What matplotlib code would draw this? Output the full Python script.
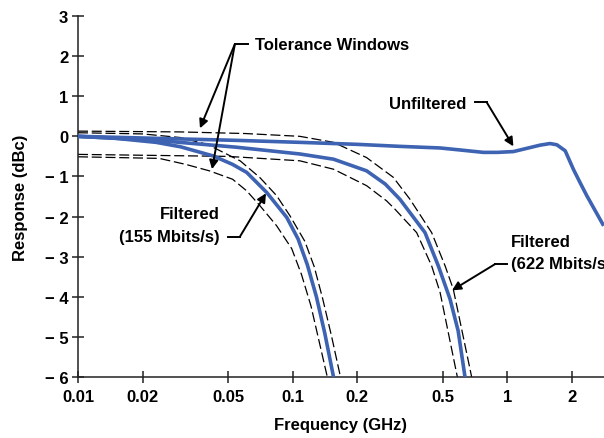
import matplotlib
matplotlib.use("Agg")
import matplotlib.pyplot as plt

# unfiltered response
freq_unf = [0.01, 0.0231, 0.0544, 0.108, 0.2, 0.316, 0.486, 0.602, 0.773, 0.9, 1.067,
            1.276, 1.42, 1.58, 1.70, 1.86, 2.03, 2.18, 2.345, 2.81]
resp_unf = [0.0, -0.05, -0.10, -0.15, -0.20, -0.25, -0.29, -0.34, -0.40, -0.40, -0.38,
            -0.28, -0.22, -0.18, -0.21, -0.36, -0.82, -1.15, -1.48, -2.23]

# filtered 155 Mbits/s and its tolerance window
freq_155 = [0.01, 0.015, 0.0231, 0.03, 0.0427, 0.0525, 0.0611, 0.0757, 0.0938, 0.106,
            0.117, 0.129, 0.141, 0.155]
resp_155 = [0.0, -0.05, -0.15, -0.26, -0.49, -0.70, -0.90, -1.40, -2.02, -2.56,
            -3.2, -4.0, -4.9, -6.0]
freq_155_hi = [0.01, 0.02, 0.03, 0.04, 0.0569, 0.0704, 0.0842, 0.0971, 0.114, 0.126, 0.138,
               0.152, 0.167]
resp_155_hi = [0.09, 0.06, -0.03, -0.20, -0.61, -1.03, -1.48, -1.98, -2.62, -3.25, -4.05,
               -5.0, -6.0]
freq_155_lo = [0.01, 0.0239, 0.0318, 0.0409, 0.0525, 0.0611, 0.0704, 0.0842, 0.099, 0.11,
               0.1217, 0.145]
resp_155_lo = [-0.51, -0.55, -0.70, -0.86, -1.07, -1.36, -1.73, -2.23, -2.80, -3.45,
               -4.23, -6.0]

# filtered 622 Mbits/s and its tolerance window
freq_622 = [0.01, 0.0231, 0.0544, 0.108, 0.155, 0.221, 0.27, 0.316, 0.4135, 0.477,
            0.541, 0.59, 0.635]
resp_622 = [0.0, -0.10, -0.27, -0.44, -0.57, -0.86, -1.19, -1.57, -2.40, -3.23,
            -4.06, -4.85, -6.0]
freq_622_hi = [0.01, 0.03, 0.06, 0.108, 0.155, 0.221, 0.294, 0.352, 0.444, 0.513, 0.56, 0.682]
resp_622_hi = [0.13, 0.11, 0.07, 0.0, -0.15, -0.53, -1.02, -1.57, -2.40, -3.23, -3.81, -6.0]
freq_622_lo = [0.01, 0.05, 0.108, 0.155, 0.221, 0.274, 0.30, 0.378, 0.444, 0.486, 0.585]
resp_622_lo = [-0.45, -0.50, -0.61, -0.82, -1.23, -1.61, -1.82, -2.40, -3.23, -3.89, -6.0]

xticks = [0.01, 0.02, 0.05, 0.1, 0.2, 0.5, 1, 2]
xtick_labels = ["0.01", "0.02", "0.05", "0.1", "0.2", "0.5", "1", "2"]
yticks = [3, 2, 1, 0, -1, -2, -3, -4, -5, -6]
ytick_labels = ["3", "2", "1", "0", "\u2212 1", "\u2212 2", "\u2212 3", "\u2212 4", "\u2212 5", "\u2212 6"]

plt.rcParams["font.family"] = ["Liberation Sans", "DejaVu Sans"]
plt.rcParams["font.weight"] = "bold"

BLUE = "#3d63b2"
FS = 12

fig = plt.figure(figsize=(6.04, 4.39), dpi=100)
ax = fig.add_axes([78 / 604, 61 / 439, 526 / 604, 361 / 439])

dash = (0, (8, 3))
for f, r in [(freq_155_hi, resp_155_hi), (freq_155_lo, resp_155_lo),
             (freq_622_hi, resp_622_hi), (freq_622_lo, resp_622_lo)]:
    ax.plot(f, r, color="black", lw=0.9, linestyle=dash, zorder=2)

for f, r in [(freq_155, resp_155), (freq_622, resp_622), (freq_unf, resp_unf)]:
    ax.plot(f, r, color=BLUE, lw=2.6, solid_joinstyle="round", solid_capstyle="butt", zorder=3)

ax.set_xscale("log")
ax.set_xlim(0.01, 2.82)
ax.set_ylim(-6, 3)
ax.set_xticks(xticks)
ax.set_xticklabels(xtick_labels)
ax.minorticks_off()
ax.set_yticks(yticks)
ax.set_yticklabels(ytick_labels)
ax.tick_params(direction="inout", length=8, width=1.1, labelsize=FS, color="#222222")
ax.tick_params(axis="y", pad=3)
ax.tick_params(axis="x", pad=5)
for s in ["top", "right"]:
    ax.spines[s].set_visible(False)
for s in ["left", "bottom"]:
    ax.spines[s].set_linewidth(1.1)
    ax.spines[s].set_color("#222222")

ax.set_xlabel("Frequency (GHz)", fontsize=FS, fontweight="bold", labelpad=9)
ax.set_ylabel("Response (dBc)", fontsize=FS, fontweight="bold", labelpad=12)

arrow = dict(arrowstyle="-|>", color="black", lw=1.4, mutation_scale=13, shrinkA=0, shrinkB=0)
stub = dict(color="black", lw=1.4, clip_on=False, zorder=4)

# Tolerance Windows
ax.text(0.0667, 2.30, "Tolerance Windows", fontsize=FS, fontweight="bold", ha="left", va="center")
ax.plot([0.0538, 0.0619], [2.30, 2.30], **stub)
ax.annotate("", xy=(0.0370, 0.20), xytext=(0.0538, 2.30), arrowprops=arrow)
ax.annotate("", xy=(0.0421, -0.82), xytext=(0.0538, 2.30), arrowprops=arrow)

# Unfiltered
ax.text(0.642, 0.83, "Unfiltered", fontsize=FS, fontweight="bold", ha="right", va="center")
ax.plot([0.707, 0.802], [0.845, 0.845], **stub)
ax.annotate("", xy=(1.067, -0.25), xytext=(0.802, 0.845), arrowprops=arrow)

# Filtered 155
ax.text(0.0458, -1.92, "Filtered", fontsize=FS, fontweight="bold", ha="right", va="center")
ax.text(0.0458, -2.49, "(155 Mbits/s)", fontsize=FS, fontweight="bold", ha="right", va="center")
ax.plot([0.0499, 0.0568], [-2.50, -2.50], **stub)
ax.annotate("", xy=(0.0751, -1.42), xytext=(0.0568, -2.50), arrowprops=arrow)

# Filtered 622
ax.text(1.04, -2.63, "Filtered", fontsize=FS, fontweight="bold", ha="left", va="center")
ax.text(1.04, -3.16, "(622 Mbits/s)", fontsize=FS, fontweight="bold", ha="left", va="center")
ax.plot([0.88, 0.997], [-3.18, -3.18], **stub)
ax.annotate("", xy=(0.5525, -3.84), xytext=(0.88, -3.18), arrowprops=arrow)

fig.savefig("out.png", dpi=100)
